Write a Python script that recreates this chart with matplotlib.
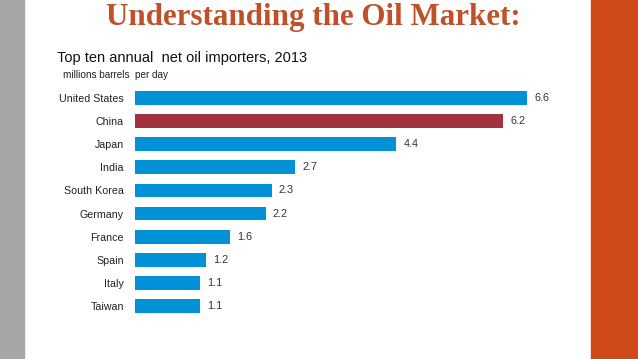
import matplotlib.pyplot as plt
from matplotlib.patches import Rectangle

countries = ['United States', 'China', 'Japan', 'India', 'South Korea',
             'Germany', 'France', 'Spain', 'Italy', 'Taiwan']
imports = [6.6, 6.2, 4.4, 2.7, 2.3, 2.2, 1.6, 1.2, 1.1, 1.1]
highlight = 'China'

W, H = 638, 359
fig = plt.figure(figsize=(W / 100, H / 100), dpi=100)
fig.patch.set_facecolor('white')

# slide decoration: gray strip left, orange strip right
fig.patches.append(Rectangle((0, 0), 24 / W, 1, transform=fig.transFigure,
                             color='#a7a5a5', zorder=0))
fig.patches.append(Rectangle((591 / W, 0), 1, 1, transform=fig.transFigure,
                             color='#d04a19', zorder=0))

fig.text(313 / W, 1 - 17 / H, 'Understanding the Oil Market:',
         ha='center', va='center', fontsize=22.3, fontweight='bold',
         family='Liberation Serif', color='#c0502a')
fig.text(57 / W, 1 - 58 / H, 'Top ten annual  net oil importers, 2013',
         ha='left', va='center', fontsize=10.5, family='Liberation Sans',
         color='#111111')
fig.text(63 / W, 1 - 75 / H, 'millions barrels  per day',
         ha='left', va='center', fontsize=7.2, family='Liberation Sans',
         color='#222222')

# bars
ax = fig.add_axes([135 / W, 1 - 317.5 / H, (591 - 135) / W, 231 / H])
ax.set_facecolor('none')
colors = ['#a2313f' if c == highlight else '#0091d6' for c in countries]
ypos = list(range(len(countries)))
ax.barh(ypos, imports, height=0.6, color=colors)
for y, v in zip(ypos, imports):
    ax.text(v + 0.12, y, f'{v:.1f}', va='center', ha='left', fontsize=7.8,
            family='Liberation Sans', color='#333333')
ax.set_xlim(0, (591 - 135) / 59.4)
ax.set_ylim(len(countries) - 0.5, -0.5)
ax.set_yticks(ypos)
ax.set_yticklabels(countries, fontsize=7.7, family='Liberation Sans',
                   color='#222222')
ax.tick_params(axis='y', length=0, pad=8)
ax.set_xticks([])
for s in ax.spines.values():
    s.set_visible(False)

fig.savefig('out.png', dpi=100)
